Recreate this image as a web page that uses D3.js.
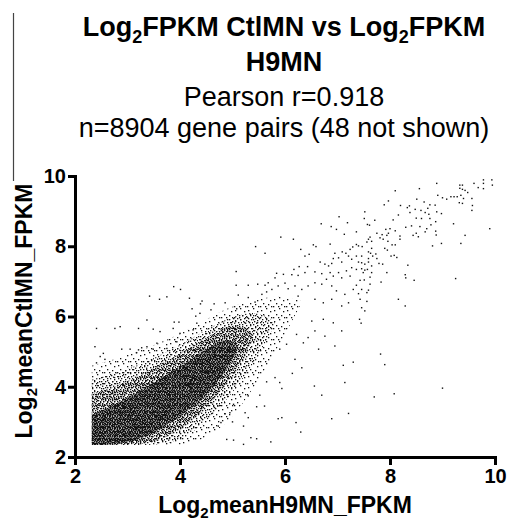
<!DOCTYPE html>
<html>
<head>
<meta charset="utf-8">
<script src="https://cdn.jsdelivr.net/npm/d3@7"></script>
<style>
body { margin: 0; background: #fff; }
text { font-family: Arial, "Liberation Sans", sans-serif; fill: #000; }
</style>
</head>
<body>
<div id="chart"></div>
<script>
// axis ticks
var tickVals = [2, 4, 6, 8, 10];

// title lines, [text, isSubscript]
var title1 = [["Log", 0], ["2", 1], ["FPKM CtlMN vs Log", 0], ["2", 1], ["FPKM", 0]];
var title2 = "H9MN";
var subtitle1 = "Pearson r=0.918";
var subtitle2 = "n=8904 gene pairs (48 not shown)";
var xTitle = [["Log", 0], ["2", 1], ["meanH9MN_FPKM", 0]];
var yTitle = [["Log", 0], ["2", 1], ["meanCtlMN_FPKM", 0]];

// density bands of the point cloud: [x, lowY, highY]
var sparseBand = [[2.32, 2.34, 4.6], [2.7, 2.34, 4.75], [3.2, 2.34, 5.0], [3.7, 2.34, 5.3], [4.2, 2.34, 5.65],
                  [4.7, 2.7, 6.1], [5.1, 3.3, 6.35], [5.5, 4.2, 6.5], [5.9, 5.2, 6.6], [6.3, 6.35, 6.45]];
var lightBand  = [[2.32, 2.34, 4.2], [2.7, 2.34, 4.35], [3.2, 2.34, 4.6], [3.7, 2.34, 4.95], [4.2, 2.6, 5.35],
                  [4.7, 3.3, 5.8], [5.1, 4.0, 6.05], [5.5, 4.9, 6.15], [5.8, 5.75, 5.85]];
var mediumBand = [[2.32, 2.34, 3.8], [2.7, 2.34, 3.95], [3.2, 2.34, 4.3], [3.7, 2.5, 4.7], [4.2, 3.0, 5.1],
                  [4.7, 3.7, 5.6], [5.1, 4.5, 5.85], [5.4, 5.4, 5.5]];
var denseBand  = [[2.32, 2.34, 3.2], [2.7, 2.34, 3.45], [3.2, 2.45, 3.85], [3.7, 2.85, 4.3], [4.2, 3.35, 4.75],
                  [4.6, 3.9, 5.2], [4.95, 4.6, 5.4], [5.1, 5.1, 5.15]];

// single points outside the dense cloud
var scatterPts = [
  [3.88,6.85],[4.01,6.77],[3.42,6.58],[3.61,6.49],[3.75,6.56],[4.18,6.52],[4.42,6.44],[4.39,6.36],[4.23,6.22],
  [4.59,6.19],[4.65,6.36],[4.30,6.01],[4.38,6.09],
  [2.41,5.66],[2.76,5.66],[2.86,5.71],[3.21,5.66],[3.37,5.90],[3.49,5.64],[3.62,5.57],[3.87,5.66],[4.00,5.52],
  [4.25,5.62],[4.32,5.81],[2.38,5.14],[2.54,4.95],[3.21,5.05],[3.37,5.14],[3.56,5.24],[3.75,5.09],[3.94,5.28],
  [2.48,4.86],[2.89,5.07],[3.05,5.07],[3.17,4.97],[3.27,5.11],[3.49,5.07],[2.41,4.68],[2.57,4.78],[3.89,5.84],[3.98,5.84],
  [7.03,8.84],[7.19,8.67],[6.69,8.64],[6.88,8.56],[6.98,8.48],[7.13,8.34],[5.92,8.26],[6.16,8.20],[5.44,7.99],
  [5.62,7.80],[6.30,7.91],[6.54,8.04],[6.59,7.99],[6.86,8.06],[6.38,7.72],[6.46,7.77],[7.29,7.98],[7.24,7.91],
  [7.16,7.80],[7.09,7.84],[6.95,7.80],[6.92,7.65],[7.02,7.67],[7.08,7.55],[7.21,7.72],[7.27,7.63],[5.07,7.28],
  [5.07,6.89],[5.30,6.89],[5.48,6.92],[5.62,6.89],[5.68,6.96],[5.81,7.10],[5.84,7.23],[5.97,7.20],[6.13,7.19],
  [6.25,7.17],[6.17,7.34],[6.27,7.42],[6.38,7.25],[6.43,7.42],[6.57,7.27],[6.67,7.55],[6.76,7.49],[6.83,7.44],
  [6.89,7.51],[6.86,7.25],[6.70,7.22],[6.79,7.06],[6.92,7.15],[7.02,7.25],[7.08,7.10],[7.17,7.30],[7.27,7.39],
  [7.24,7.15],[7.30,6.77],[4.86,6.39],[5.11,6.61],[5.08,6.22],[5.30,6.54],[5.43,6.41],[5.56,6.63],[5.65,6.70],
  [5.75,6.77],[5.87,6.87],[6.00,6.95],[6.06,6.79],[6.19,6.87],[6.32,6.77],[6.44,6.87],[6.57,6.96],[6.70,6.92],
  [6.89,6.87],[6.98,6.73],[7.14,6.63],[6.57,6.49],[6.73,6.39],[6.89,6.49],[7.08,6.30],[7.21,6.39],[6.25,6.58],
  [8.89,9.79],[9.33,9.74],[9.38,9.74],[9.60,9.79],[9.78,9.89],[9.94,9.89],[9.78,9.79],[9.68,9.67],[9.78,9.64],
  [9.95,9.74],[9.33,9.65],[9.38,9.62],[9.43,9.59],[9.48,9.53],[8.10,9.58],[8.56,9.64],[7.97,9.29],[7.89,9.18],
  [8.20,9.16],[8.37,9.15],[8.33,9.10],[8.51,9.34],[8.65,9.26],[8.76,9.18],[8.91,9.45],[9.00,9.38],[9.08,9.34],
  [9.16,9.41],[9.22,9.41],[9.28,9.41],[9.35,9.45],[9.40,9.36],[9.32,9.24],[9.38,9.22],[9.56,9.36],[9.57,9.16],
  [9.56,9.02],[8.86,9.17],[8.89,8.98],[8.98,8.93],[8.72,9.08],[8.59,9.02],[8.67,8.96],[8.74,8.91],[8.76,8.79],
  [8.48,9.05],[8.50,8.80],[8.60,8.79],[8.38,8.96],[8.16,8.89],[8.06,8.75],[7.71,8.74],[7.52,8.98],[7.51,8.79],
  [7.57,8.62],[7.61,8.60],[9.21,8.64],[8.87,8.70],[8.78,8.61],[8.70,8.50],[8.57,8.56],[8.41,8.58],[8.30,8.54],
  [8.00,8.50],[7.92,8.48],[8.10,8.44],[7.36,8.41],[7.75,8.37],[7.85,8.33],[7.94,8.31],[7.97,8.37],[8.19,8.29],
  [8.44,8.31],[8.50,8.37],[8.54,8.27],[8.67,8.41],[8.87,8.43],[8.88,8.32],[9.43,8.31],[9.90,8.50],[7.62,8.26],
  [7.59,8.20],[7.56,8.12],[7.65,8.14],[7.81,8.24],[7.87,8.20],[7.96,8.14],[8.04,8.04],[8.10,8.04],[8.19,8.20],
  [8.81,8.01],[8.98,8.08],[9.35,8.08],[7.36,8.05],[7.40,8.01],[7.47,7.99],[7.65,7.94],[7.59,7.84],[7.63,7.80],
  [7.67,7.72],[7.73,7.78],[7.90,7.94],[7.95,7.89],[7.36,7.72],[7.46,7.72],[7.59,7.65],[7.75,7.65],[8.02,7.72],
  [8.08,7.74],[8.13,7.68],[7.40,7.55],[7.46,7.53],[7.52,7.49],[7.59,7.55],[7.65,7.44],[7.79,7.51],[7.86,7.49],
  [7.36,7.34],[7.46,7.36],[7.52,7.32],[7.57,7.34],[7.65,7.25],[7.62,7.12],[7.49,7.25],[8.34,7.46],[7.94,7.25],
  [8.29,7.19],[8.30,7.10],[8.46,7.03],[9.25,7.08],[7.36,6.89],[7.43,7.03],[7.51,7.04],[7.62,6.92],[7.83,6.98],
  [7.46,6.77],[7.56,6.68],[7.40,6.65],[7.59,6.75],[7.43,6.49],[7.56,6.43],[7.46,6.25],[8.16,6.49],[8.29,6.30],
  [7.52,6.16],
  [6.51,5.87],[6.73,5.92],[6.92,5.82],[7.08,5.59],[6.76,5.44],[6.95,5.16],[6.57,5.59],[6.44,5.40],[6.64,5.07],
  [6.22,5.49],[6.35,5.25],[6.19,4.78],[6.32,4.54],[6.14,4.38],[5.90,5.07],[6.03,5.21],[7.11,4.61],[7.30,4.70],
  [7.14,4.12],[6.56,4.02],[6.70,3.76],[5.90,4.12],[5.81,4.26],[5.94,3.95],[5.65,4.14],[5.52,3.76],[5.61,3.45],
  [5.30,3.74],[5.46,3.43],[5.24,3.26],[5.02,3.50],[4.95,3.26],[4.86,3.23],[4.72,3.45],[4.78,2.98],[5.00,3.00],
  [5.21,2.88],[4.89,2.50],[5.02,2.48],[5.35,2.55],[5.46,2.52],[5.21,2.36],[5.73,2.43],[5.87,3.09],[5.94,3.12],
  [6.21,2.98],[6.30,2.71],[6.89,3.09],[7.21,3.24],[4.73,2.88],[5.30,3.12],
  [7.42,5.92],[7.45,5.81],[7.82,4.93],[7.90,4.63],[9.00,3.96],[8.08,3.80],[7.70,3.71]
];

var w = 507, h = 520;

var svg = d3.select("#chart")
    .append("svg")
    .attr("width", w)
    .attr("height", h);

var x = d3.scaleLinear().domain([2, 10]).range([75, 495]);
var y = d3.scaleLinear().domain([2, 10]).range([457, 176]);

// speckle textures for the cloud (stacked, so darkness adds up)
var defs = svg.append("defs");
function speckle(id, tw, th, dots, size) {
    var p = defs.append("pattern")
        .attr("id", id)
        .attr("patternUnits", "userSpaceOnUse")
        .attr("width", tw)
        .attr("height", th);
    dots.forEach(function(d) {
        p.append("rect").attr("x", d[0]).attr("y", d[1])
            .attr("width", size).attr("height", size).attr("fill", "#111");
    });
}
speckle("sparse", 13, 11, [[1, 2], [6, 0], [10, 3], [3, 6], [8, 7], [11, 9], [0, 9], [5, 9]], 1.3);
speckle("light", 11, 9, [[0, 0], [4, 1], [8, 0], [2, 3], [6, 3], [9, 4], [1, 6], [4, 5], [7, 7], [10, 7], [3, 7.6]], 1.3);
speckle("medium", 7, 7, [[0, 1], [3, 0], [5, 2], [1, 4], [4, 4], [6, 5], [2, 5.6], [0, 5.6], [2, 2], [5, 0], [4, 6]], 1.3);
speckle("dense", 5, 4, [[0, 0], [2, 0], [4, 0.5], [1, 1.4], [3, 1.8], [0, 2.7], [2, 2.6], [4, 2.7]], 1.3);

var band = d3.area()
    .x(function(d) { return x(d[0]); })
    .y0(function(d) { return y(d[1]); })
    .y1(function(d) { return y(d[2]); })
    .curve(d3.curveBasis);

var bands = [[sparseBand, "sparse"], [lightBand, "light"], [mediumBand, "medium"], [denseBand, "dense"]];
svg.append("g").selectAll("path")
    .data(bands)
    .enter()
    .append("path")
    .attr("d", function(d) { return band(d[0]); })
    .attr("fill", function(d) { return "url(#" + d[1] + ")"; });

svg.append("g").selectAll("rect")
    .data(scatterPts)
    .enter()
    .append("rect")
    .attr("x", function(d) { return x(d[0]) - 0.7; })
    .attr("y", function(d) { return y(d[1]) - 0.7; })
    .attr("width", 1.4)
    .attr("height", 1.4)
    .attr("fill", "#111");

// axes
var xAxis = svg.append("g")
    .attr("transform", "translate(0,457)")
    .call(d3.axisBottom(x).tickValues(tickVals).tickSize(8).tickSizeOuter(0).tickPadding(4));
var yAxis = svg.append("g")
    .attr("transform", "translate(75,0)")
    .call(d3.axisLeft(y).tickValues(tickVals).tickSize(7).tickSizeOuter(0).tickPadding(2));

[xAxis, yAxis].forEach(function(a) {
    a.select(".domain").attr("stroke", "#000").attr("stroke-width", 3).attr("stroke-linecap", "square");
    a.selectAll(".tick line").attr("stroke", "#000").attr("stroke-width", 3);
    a.selectAll(".tick text")
        .style("font-family", "Arial, 'Liberation Sans', sans-serif")
        .style("font-size", "20px")
        .style("font-weight", "bold")
        .attr("fill", "#000");
});

// text with subscripts
function addRich(parent, parts, size, subSize, shift) {
    var prevSub = false;
    parts.forEach(function(p) {
        var t = parent.append("tspan").text(p[0]);
        if (p[1]) {
            t.attr("font-size", subSize).attr("dy", shift);
            prevSub = true;
        } else {
            t.attr("font-size", size).attr("dy", prevSub ? -shift : 0);
            prevSub = false;
        }
    });
}

var cx = 284;
var t1 = svg.append("text").attr("x", cx).attr("y", 36)
    .attr("text-anchor", "middle").attr("font-weight", "bold");
addRich(t1, title1, 27, 18, 7);

svg.append("text").attr("x", cx).attr("y", 71)
    .attr("text-anchor", "middle").attr("font-weight", "bold")
    .attr("font-size", 27).text(title2);

svg.append("text").attr("x", cx).attr("y", 106)
    .attr("text-anchor", "middle").attr("font-size", 27).text(subtitle1);

svg.append("text").attr("x", cx).attr("y", 137)
    .attr("text-anchor", "middle").attr("font-size", 27).text(subtitle2);

var xt = svg.append("text").attr("x", 285).attr("y", 513)
    .attr("text-anchor", "middle").attr("font-weight", "bold");
addRich(xt, xTitle, 23, 15, 5);

var yt = svg.append("text")
    .attr("transform", "translate(32,311) rotate(-90)")
    .attr("text-anchor", "middle").attr("font-weight", "bold");
addRich(yt, yTitle, 23, 15, 5);

// thin frame line at the left edge
svg.append("line")
    .attr("x1", 13.5).attr("x2", 13.5)
    .attr("y1", 13).attr("y2", 181)
    .attr("stroke", "#444")
    .attr("stroke-width", 1.2);
</script>
</body>
</html>
